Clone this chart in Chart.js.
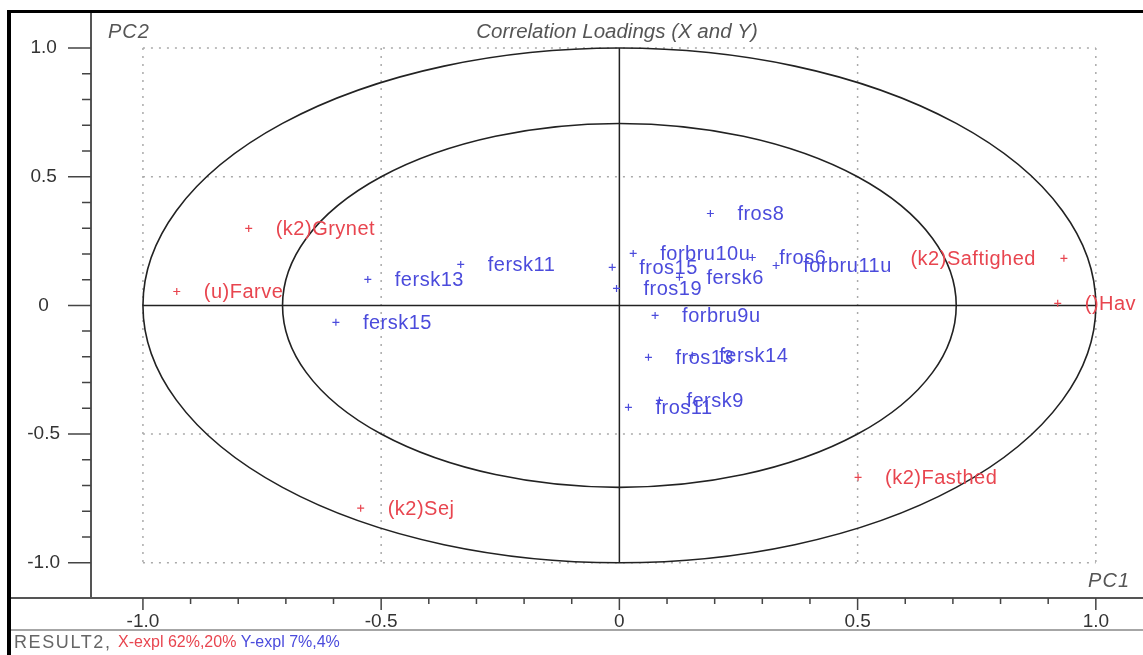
<!DOCTYPE html>
<html>
<head>
<meta charset="utf-8">
<title>Correlation Loadings (X and Y)</title>
<script src="https://cdn.jsdelivr.net/npm/chart.js@4.4.1/dist/chart.umd.min.js"></script>
<style>
  html, body { margin: 0; padding: 0; background: #fff; }
  canvas { display: block; }
</style>
</head>
<body>
<canvas id="loadings" width="1143" height="655"></canvas>
<script>
// X-variabler (roed)
const xNames = ['(k2)Grynet', '(u)Farve', '(k2)Sej', '(k2)Fasthed', '(k2)Saftighed', '()Hav'];
const xPc1 = [-0.778, -0.929, -0.543, 0.501, 0.933, 0.920];
const xPc2 = [0.299, 0.054, -0.788, -0.668, 0.183, 0.008];

// Y-variabler (blaa)
const yNames = ['fersk13', 'fersk11', 'fersk15', 'fros8', 'forbru10u', 'fros15', 'fersk6',
                'fros19', 'fros6', 'forbru11u', 'forbru9u', 'fros13', 'fersk14', 'fersk9', 'fros11'];
const yPc1 = [-0.528, -0.333, -0.595, 0.191, 0.029, -0.015, 0.126,
              -0.006, 0.279, 0.329, 0.075, 0.061, 0.153, 0.084, 0.019];
const yPc2 = [0.101, 0.159, -0.066, 0.357, 0.202, 0.148, 0.109,
              0.066, 0.186, 0.155, -0.039, -0.202, -0.194, -0.369, -0.396];

// akser
const majorTicks = [-1, -0.5, 0, 0.5, 1];
const minorTicks = [-0.9, -0.8, -0.7, -0.6, -0.4, -0.3, -0.2, -0.1,
                    0.1, 0.2, 0.3, 0.4, 0.6, 0.7, 0.8, 0.9];
const gridValues = [-1, -0.5, 0.5, 1];
const circleRadii = [1.0, 0.707]; // 100% og 50% forklaret varians

// tekster der skrives til venstre for punktet (ellers ryger de ud af billedet)
const leftLabels = ['(k2)Saftighed'];

const RED = '#e8454f';
const BLUE = '#4b4bdc';
const FONT = "'Liberation Sans', Arial, sans-serif";

const toPoints = (xs, ys) => xs.map((v, i) => ({ x: v, y: ys[i] }));
const tickText = v => v === 0 ? '0' : v.toFixed(1);

// ellipser, gitter og akser gennem origo
const backgroundPlugin = {
    id: 'background',
    beforeDatasetsDraw(chart) {
        const { ctx, scales: { x, y } } = chart;
        const cx = x.getPixelForValue(0);
        const cy = y.getPixelForValue(0);
        ctx.save();

        // prikket gitter
        ctx.strokeStyle = '#aaa';
        ctx.lineWidth = 1.5;
        ctx.setLineDash([2, 6]);
        gridValues.forEach(v => {
            ctx.beginPath();
            ctx.moveTo(x.getPixelForValue(-1), y.getPixelForValue(v));
            ctx.lineTo(x.getPixelForValue(1), y.getPixelForValue(v));
            ctx.stroke();
            ctx.beginPath();
            ctx.moveTo(x.getPixelForValue(v), y.getPixelForValue(1));
            ctx.lineTo(x.getPixelForValue(v), y.getPixelForValue(-1));
            ctx.stroke();
        });
        ctx.setLineDash([]);

        // akser gennem origo
        ctx.strokeStyle = '#222';
        ctx.lineWidth = 1.5;
        ctx.beginPath();
        ctx.moveTo(x.getPixelForValue(-1), cy);
        ctx.lineTo(x.getPixelForValue(1), cy);
        ctx.moveTo(cx, y.getPixelForValue(1));
        ctx.lineTo(cx, y.getPixelForValue(-1));
        ctx.stroke();

        // korrelationsellipser
        ctx.strokeStyle = '#222';
        ctx.lineWidth = 1.6;
        circleRadii.forEach(r => {
            const rx = x.getPixelForValue(r) - cx;
            const ry = cy - y.getPixelForValue(r);
            ctx.beginPath();
            ctx.ellipse(cx, cy, rx, ry, 0, 0, Math.PI * 2);
            ctx.stroke();
        });
        ctx.restore();
    }
};

// tekst ved punkterne
const labelPlugin = {
    id: 'pointLabels',
    afterDatasetsDraw(chart) {
        const { ctx } = chart;
        ctx.save();
        ctx.font = '20px ' + FONT;
        ctx.letterSpacing = '0.5px';
        ctx.textBaseline = 'middle';
        chart.data.datasets.forEach((ds, di) => {
            const meta = chart.getDatasetMeta(di);
            ctx.fillStyle = ds.borderColor;
            meta.data.forEach((pt, i) => {
                const name = ds.names[i];
                if (leftLabels.includes(name)) {
                    ctx.textAlign = 'right';
                    ctx.fillText(name, pt.x - 28, pt.y + 1);
                } else {
                    ctx.textAlign = 'left';
                    ctx.fillText(name, pt.x + 27, pt.y + 1);
                }
            });
        });
        ctx.restore();
    }
};

// ramme, tick-streger, titel og bundtekst
const framePlugin = {
    id: 'frame',
    afterDraw(chart) {
        const { ctx, chartArea: area, scales: { x, y } } = chart;
        ctx.save();

        // akselinjer
        ctx.strokeStyle = '#555';
        ctx.lineWidth = 2;
        ctx.beginPath();
        ctx.moveTo(area.left, area.top);
        ctx.lineTo(area.left, area.bottom);
        ctx.moveTo(11, area.bottom);
        ctx.lineTo(chart.width, area.bottom);
        ctx.stroke();

        ctx.strokeStyle = '#888';
        ctx.lineWidth = 1.5;
        ctx.beginPath();
        ctx.moveTo(11, 630);
        ctx.lineTo(chart.width, 630);
        ctx.stroke();

        // tick-streger
        ctx.strokeStyle = '#444';
        ctx.lineWidth = 1.5;
        ctx.beginPath();
        majorTicks.forEach(v => {
            const py = y.getPixelForValue(v);
            ctx.moveTo(area.left - 23, py);
            ctx.lineTo(area.left, py);
            const px = x.getPixelForValue(v);
            ctx.moveTo(px, area.bottom);
            ctx.lineTo(px, area.bottom + 12);
        });
        minorTicks.forEach(v => {
            const py = y.getPixelForValue(v);
            ctx.moveTo(area.left - 9, py);
            ctx.lineTo(area.left, py);
            const px = x.getPixelForValue(v);
            ctx.moveTo(px, area.bottom);
            ctx.lineTo(px, area.bottom + 6);
        });
        ctx.stroke();

        // sort ramme
        ctx.fillStyle = '#000';
        ctx.fillRect(7, 10, 4, chart.height - 10);
        ctx.fillRect(7, 10, chart.width - 7, 3);

        // titel og aksenavne
        ctx.fillStyle = '#555';
        ctx.font = 'italic 20.5px ' + FONT;
        ctx.textBaseline = 'middle';
        ctx.textAlign = 'center';
        ctx.fillText('Correlation Loadings (X and Y)', 617, 32);
        ctx.font = 'italic 20px ' + FONT;
        ctx.letterSpacing = '1px';
        ctx.textAlign = 'left';
        ctx.fillText('PC2', 108, 32);
        ctx.textAlign = 'right';
        ctx.fillText('PC1', 1130, 581);

        // bundtekst
        ctx.textAlign = 'left';
        let tx = 14;
        [['RESULT2, ', '#666', 18, '1.6px'],
         ['X-expl 62%,20% ', RED, 16, '0px'],
         ['Y-expl 7%,4%', BLUE, 16, '0px']].forEach(([t, c, size, sp]) => {
            ctx.font = size + 'px ' + FONT;
            ctx.letterSpacing = sp;
            ctx.fillStyle = c;
            ctx.fillText(t, tx, 643);
            tx += ctx.measureText(t).width;
        });
        ctx.restore();
    }
};

new Chart(document.getElementById('loadings'), {
    type: 'scatter',
    data: {
        datasets: [
            {
                label: 'X',
                names: xNames,
                data: toPoints(xPc1, xPc2),
                borderColor: RED,
                backgroundColor: RED,
                pointStyle: 'cross',
                pointRadius: 3.5,
                borderWidth: 1.2
            },
            {
                label: 'Y',
                names: yNames,
                data: toPoints(yPc1, yPc2),
                borderColor: BLUE,
                backgroundColor: BLUE,
                pointStyle: 'cross',
                pointRadius: 3.5,
                borderWidth: 1.2
            }
        ]
    },
    options: {
        responsive: false,
        animation: false,
        devicePixelRatio: 1,
        layout: { autoPadding: false, padding: { left: 11, top: 12, right: 0, bottom: 0 } },
        plugins: {
            legend: { display: false },
            tooltip: { enabled: false },
            title: { display: false }
        },
        scales: {
            x: {
                type: 'linear',
                min: -1.109,
                max: 1.099,
                grid: { display: false, drawTicks: false },
                border: { display: false },
                afterBuildTicks: s => { s.ticks = majorTicks.map(v => ({ value: v })); },
                afterFit: s => { s.height = 57; s.paddingLeft = 0; s.paddingRight = 0; },
                ticks: {
                    padding: 12,
                    color: '#333',
                    font: { family: FONT, size: 19 },
                    maxRotation: 0,
                    callback: v => tickText(v)
                }
            },
            y: {
                type: 'linear',
                min: -1.137,
                max: 1.14,
                grid: { display: false, drawTicks: false },
                border: { display: false },
                afterBuildTicks: s => { s.ticks = majorTicks.map(v => ({ value: v })); },
                afterFit: s => { s.width = 80; s.paddingTop = 0; s.paddingBottom = 0; },
                ticks: {
                    padding: 31,
                    crossAlign: 'center',
                    color: '#333',
                    font: { family: FONT, size: 19 },
                    callback: v => tickText(v)
                }
            }
        }
    },
    plugins: [backgroundPlugin, labelPlugin, framePlugin]
});
</script>
</body>
</html>
